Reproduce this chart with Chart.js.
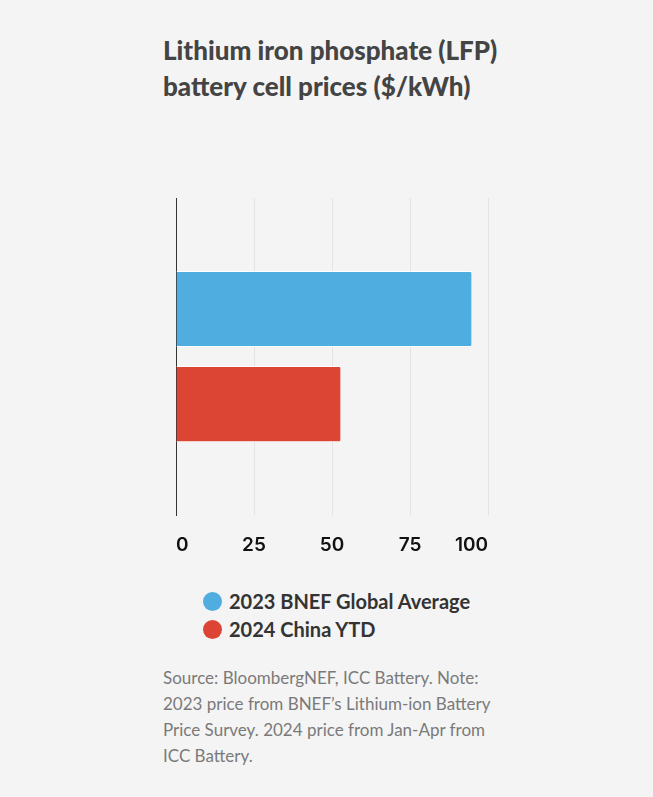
<!DOCTYPE html>
<html>
<head>
<meta charset="utf-8">
<script src="https://cdn.jsdelivr.net/npm/chart.js@4"></script>
<style>
  html,body{margin:0;padding:0;background:#f4f4f4;}
  body{width:653px;height:797px;position:relative;overflow:hidden;font-family:Lato,"Noto Sans",sans-serif;}
  #titulo{position:absolute;left:163px;top:32px;font-weight:900;font-size:26px;line-height:36px;color:#444;}
  #grafBox{position:absolute;left:150px;top:190px;width:370px;height:386px;}
  #legenda{position:absolute;left:203px;top:587px;font-family:Lato,sans-serif;font-weight:700;font-size:20px;color:#333;}
  #legenda div{height:28px;line-height:26px;display:flex;align-items:center;}
  #legenda span.dot{display:inline-block;width:19px;height:19px;border-radius:50%;margin-right:7px;}
  #fonte{position:absolute;left:163px;top:665px;width:345px;font-size:17px;line-height:26px;color:#7a7a7a;}
</style>
</head>
<body>
<div id="titulo">Lithium iron phosphate (LFP)<br>battery cell prices ($/kWh)</div>
<div id="grafBox"><canvas id="grafLFP"></canvas></div>
<div id="legenda"></div>
<div id="fonte">Source: BloombergNEF, ICC Battery. Note: 2023 price from BNEF’s Lithium-ion Battery Price Survey. 2024 price from Jan-Apr from ICC Battery.</div>
<script>
// dados
const categorias = [''];
const nomesSeries = ['2023 BNEF Global Average', '2024 China YTD'];
const bnefGlobal2023 = [95];
const chinaYtd2024 = [53];
const coresSeries = ['#4faddf', '#dc4533'];
const ticksX = [0, 25, 50, 75, 100];

const seriesValores = [bnefGlobal2023, chinaYtd2024];

let grafLFP = new Chart(document.getElementById('grafLFP').getContext('2d'), {
  type: 'bar',
  data: {
    labels: categorias,
    datasets: nomesSeries.map((n, i) => ({
      label: n,
      data: seriesValores[i],
      backgroundColor: coresSeries[i],
      borderColor: '#ffffff',
      borderWidth: 1,
      borderRadius: 2,
      barPercentage: 0.8,
      categoryPercentage: 0.6
    }))
  },
  options: {
    indexAxis: 'y',
    responsive: true,
    maintainAspectRatio: false,
    animation: false,
    layout: { padding: { left: 18, right: 32, top: 8, bottom: 0 } },
    plugins: { legend: { display: false }, tooltip: { enabled: false } },
    scales: {
      x: {
        min: 0, max: 100,
        afterBuildTicks: ax => { ax.ticks = ticksX.map(v => ({ value: v })); },
        grid: { color: '#e3e3e3', drawTicks: false },
        border: { display: false },
        ticks: { align: 'inner', padding: 19, color: '#111', font: { family: 'Inter', weight: '600', size: 19 } }
      },
      y: {
        grid: { display: false },
        border: { display: true, color: '#333', width: 1 },
        ticks: { display: false }
      }
    }
  }
});

// legenda em html
document.getElementById('legenda').innerHTML = nomesSeries.map((n, i) =>
  `<div><span class="dot" style="background:${coresSeries[i]}"></span>${n}</div>`).join('');
</script>
</body>
</html>
